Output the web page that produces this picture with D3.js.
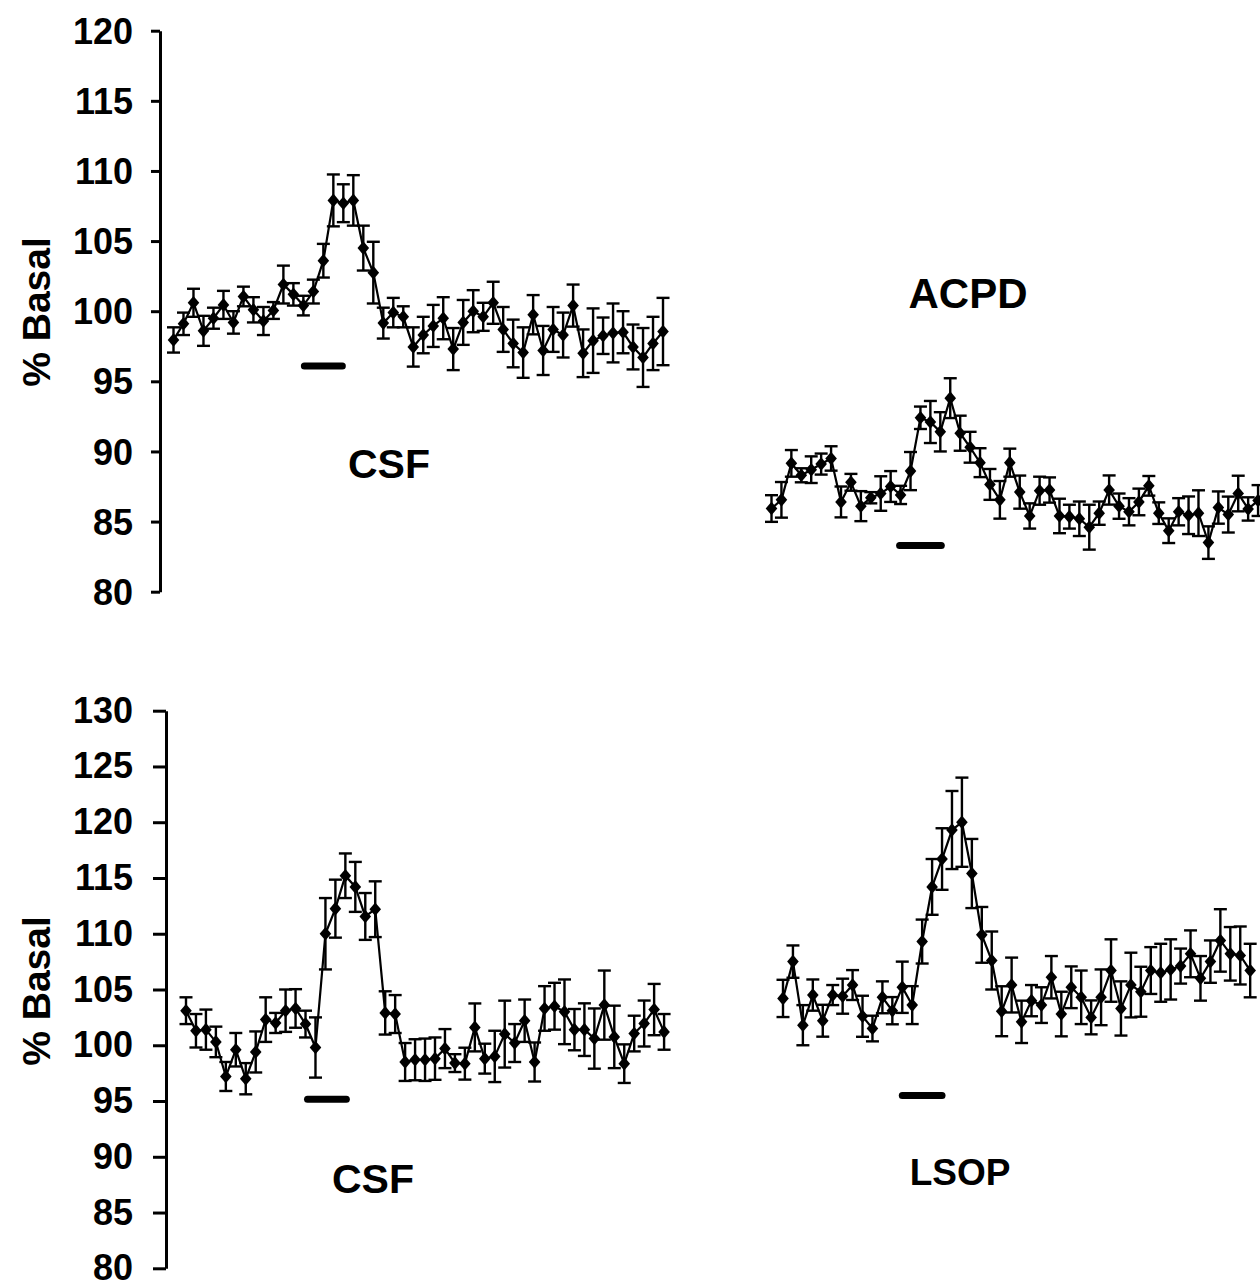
<!DOCTYPE html>
<html>
<head>
<meta charset="utf-8">
<script src="https://cdn.jsdelivr.net/npm/d3@7"></script>
<style>
  html, body { margin: 0; padding: 0; background: #fff; }
  svg { display: block; }
  text { font-family: "Liberation Sans", Arial, sans-serif; font-weight: bold; fill: #000; }
</style>
</head>
<body>
<svg id="chart" width="1260" height="1281"></svg>
<script>
// ---------------- DATA ----------------
const topTicks = [80, 85, 90, 95, 100, 105, 110, 115, 120];
const bottomTicks = [80, 85, 90, 95, 100, 105, 110, 115, 120, 125, 130];
const yTitle = "% Basal";

// Top-left: CSF
const csfTopValues = [97.95, 99.1, 100.6, 98.6, 99.5, 100.45, 99.2, 101.05, 100.1, 99.3,
  100.05, 101.9, 101.2, 100.4, 101.4, 103.6, 107.9, 107.7, 107.9, 104.5,
  102.75, 99.15, 99.9, 99.6, 97.45, 98.3, 98.95, 99.5, 97.3, 99.2,
  100.0, 99.6, 100.6, 98.7, 97.7, 97.05, 99.75, 97.2, 98.7, 98.3,
  100.4, 97.0, 97.9, 98.25, 98.45, 98.5, 97.45, 96.7, 97.7, 98.55];
const csfTopErrors = [0.9, 0.8, 1.0, 1.07, 0.75, 1.0, 0.8, 0.7, 0.9, 1.0,
  0.6, 1.35, 0.8, 0.7, 0.85, 1.2, 1.85, 1.35, 1.8, 1.6,
  2.2, 1.1, 1.05, 0.75, 1.4, 1.3, 1.5, 1.5, 1.5, 1.6,
  1.5, 1.0, 1.5, 1.6, 1.7, 1.8, 1.4, 1.75, 1.6, 1.6,
  1.5, 1.7, 2.3, 1.3, 2.1, 1.5, 1.6, 2.1, 1.9, 2.4];

// Top-right: ACPD
const acpdValues = [85.93, 86.55, 89.15, 88.3, 88.7, 89.1, 89.5, 86.4, 87.8, 86.1,
  86.7, 87.0, 87.5, 86.9, 88.6, 92.4, 92.1, 91.4, 93.8, 91.3,
  90.3, 89.2, 87.65, 86.55, 89.2, 87.1, 85.4, 87.2, 87.25, 85.4,
  85.35, 85.2, 84.6, 85.6, 87.25, 86.1, 85.7, 86.4, 87.55, 85.6,
  84.35, 85.7, 85.45, 85.6, 83.5, 86.0, 85.5, 87.0, 85.9, 86.5];
const acpdErrors = [0.95, 1.27, 0.95, 0.5, 0.95, 0.75, 0.87, 1.1, 0.6, 1.07,
  0.4, 1.23, 1.1, 0.65, 1.36, 0.8, 1.5, 1.4, 1.42, 1.25,
  1.1, 1.03, 1.1, 1.34, 1.0, 1.18, 0.9, 1.0, 0.9, 1.23,
  0.85, 1.23, 1.6, 0.83, 1.04, 0.9, 0.97, 0.95, 0.7, 0.77,
  0.88, 0.97, 1.34, 1.63, 1.16, 1.15, 1.28, 1.27, 0.83, 1.1];

// Bottom-left: CSF
const csfBottomValues = [103.1, 101.3, 101.4, 100.3, 97.2, 99.6, 97.0, 99.4, 102.3, 102.0,
  103.1, 103.3, 101.9, 99.8, 110.0, 112.25, 115.2, 114.2, 111.55, 112.2,
  102.9, 102.8, 98.5, 98.7, 98.7, 98.8, 99.7, 98.4, 98.35, 101.6,
  98.8, 99.0, 101.0, 100.2, 102.2, 98.5, 103.3, 103.5, 103.0, 101.4,
  101.4, 100.6, 103.6, 100.75, 98.35, 101.05, 101.95, 103.2, 101.2];
const csfBottomErrors = [1.2, 1.5, 1.8, 1.37, 1.3, 1.5, 1.4, 1.84, 2.0, 0.9,
  1.9, 1.73, 1.2, 2.7, 3.2, 2.6, 2.0, 2.24, 2.1, 2.5,
  1.94, 1.7, 1.7, 1.84, 1.9, 1.9, 1.75, 0.8, 1.43, 2.15,
  1.34, 2.3, 3.0, 1.7, 1.9, 1.75, 2.0, 2.1, 2.9, 1.85,
  2.36, 2.7, 3.1, 2.8, 1.73, 1.6, 2.06, 2.3, 1.6];

// Bottom-right: LSOP
const lsopValues = [104.2, 107.5, 101.8, 104.5, 102.2, 104.5, 104.4, 105.4, 102.6, 101.5,
  104.3, 103.1, 105.2, 103.6, 109.3, 114.2, 116.7, 119.3, 120.0, 115.4,
  109.9, 107.6, 103.05, 105.4, 102.1, 104.0, 103.6, 106.1, 102.8, 105.2,
  104.3, 102.5, 104.3, 106.7, 103.3, 105.4, 104.8, 106.7, 106.5, 106.8,
  107.1, 108.2, 106.0, 107.5, 109.4, 108.2, 108.05, 106.7];
const lsopErrors = [1.67, 1.45, 1.8, 1.4, 1.43, 0.9, 1.57, 1.34, 1.84, 1.15,
  1.43, 1.22, 2.3, 1.7, 1.97, 2.5, 2.76, 3.5, 4.0, 3.1,
  2.5, 2.6, 2.24, 2.46, 1.9, 1.4, 1.6, 1.9, 2.0, 1.87,
  2.4, 1.52, 2.5, 2.8, 2.43, 2.9, 2.24, 2.1, 2.6, 2.7,
  1.57, 2.1, 2.0, 1.9, 2.8, 2.4, 2.6, 2.4];

// Application bars: [startSample, endSample, level] (sample indices 0-based)
const csfTopBar = [13.1, 16.9, 96.1];
const acpdBar = [12.9, 17.1, 83.3];
const csfBottomBar = [12.2, 16.1, 95.15];
const lsopBar = [12.0, 16.0, 95.5];

const labels = ["CSF", "ACPD", "CSF", "LSOP"];

// ---------------- LAYOUT ----------------
const svg = d3.select("#chart");

const yTop = d3.scaleLinear().domain([80, 120]).range([591.7, 30.7]);
const yBot = d3.scaleLinear().domain([80, 130]).range([1268.3, 710.7]);

function drawAxis(scale, ticks, xPos, tickLen, dy) {
  const g = svg.append("g").attr("transform", `translate(${xPos},0)`);
  g.call(d3.axisLeft(scale).tickValues(ticks).tickSizeInner(tickLen).tickSizeOuter(0)
    .tickPadding(xPos - tickLen - 133));
  g.select(".domain").attr("stroke", "#000").attr("stroke-width", 3);
  g.selectAll(".tick line").attr("stroke", "#000").attr("stroke-width", 3);
  g.selectAll(".tick text").attr("font-size", 36).attr("font-family", "Liberation Sans, Arial, sans-serif")
    .attr("font-weight", "bold").attr("fill", "#000").attr("dy", dy);
  return g;
}
drawAxis(yTop, topTicks, 160, 9, "0.35em");
drawAxis(yBot, bottomTicks, 166, 13, "0.32em");

// y titles
function yLabel(cx, cy) {
  svg.append("text").attr("transform", `translate(${cx},${cy}) rotate(-90)`)
    .attr("text-anchor", "middle").attr("font-size", 39).text(yTitle);
}
yLabel(50, 312);
yLabel(50, 991);

const diamond = (hw, hh) => `M0,${-hh}L${hw},0L0,${hh}L${-hw},0Z`;

function drawSeries(values, errors, xStart, step, yScale, bar, label, labelPos, labelSize) {
  const n = values.length;
  const x = d3.scaleLinear().domain([0, n - 1]).range([xStart, xStart + (n - 1) * step]);
  const data = values.map((v, i) => ({ i, v, e: errors[i] }));
  const g = svg.append("g");
  // error bars
  const eb = g.append("g").attr("stroke", "#000").attr("stroke-width", 2.4).attr("fill", "none");
  eb.selectAll("line.v").data(data).join("line").attr("class", "v")
    .attr("x1", d => x(d.i)).attr("x2", d => x(d.i))
    .attr("y1", d => yScale(d.v + d.e)).attr("y2", d => yScale(d.v - d.e));
  eb.selectAll("line.t").data(data).join("line").attr("class", "t")
    .attr("x1", d => x(d.i) - 6.5).attr("x2", d => x(d.i) + 6.5)
    .attr("y1", d => yScale(d.v + d.e)).attr("y2", d => yScale(d.v + d.e));
  eb.selectAll("line.b").data(data).join("line").attr("class", "b")
    .attr("x1", d => x(d.i) - 6.5).attr("x2", d => x(d.i) + 6.5)
    .attr("y1", d => yScale(d.v - d.e)).attr("y2", d => yScale(d.v - d.e));
  // line
  g.append("path").datum(data)
    .attr("fill", "none").attr("stroke", "#000").attr("stroke-width", 2.2)
    .attr("d", d3.line().x(d => x(d.i)).y(d => yScale(d.v)));
  // markers
  g.selectAll("path.m").data(data).join("path").attr("class", "m")
    .attr("transform", d => `translate(${x(d.i)},${yScale(d.v)})`)
    .attr("d", diamond(5.8, 6.8)).attr("fill", "#000");
  // application bar
  svg.append("line")
    .attr("x1", x(bar[0])).attr("x2", x(bar[1]))
    .attr("y1", yScale(bar[2])).attr("y2", yScale(bar[2]))
    .attr("stroke", "#000").attr("stroke-width", 7).attr("stroke-linecap", "round");
  // label
  svg.append("text").attr("x", labelPos[0]).attr("y", labelPos[1])
    .attr("text-anchor", "middle").attr("font-size", labelSize).text(label);
}

drawSeries(csfTopValues, csfTopErrors, 173.5, 9.99, yTop, csfTopBar, labels[0], [389, 478], 41);
drawSeries(acpdValues, acpdErrors, 771.5, 9.93, yTop, acpdBar, labels[1], [968, 308], 42);
drawSeries(csfBottomValues, csfBottomErrors, 186, 9.96, yBot, csfBottomBar, labels[2], [373, 1193], 41);
drawSeries(lsopValues, lsopErrors, 783, 9.94, yBot, lsopBar, labels[3], [960, 1185], 37);
</script>
</body>
</html>
